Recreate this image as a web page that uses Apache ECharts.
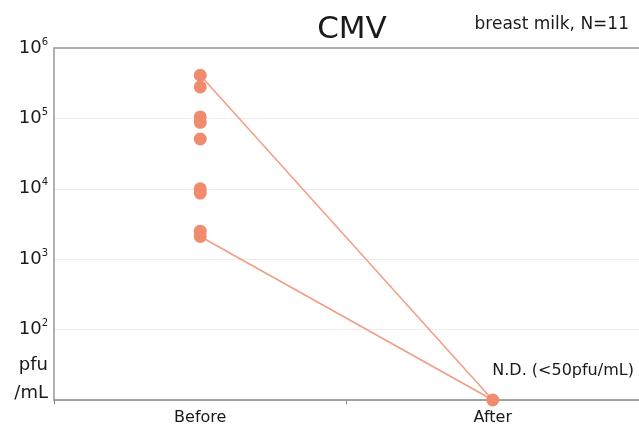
<!DOCTYPE html>
<html>
<head>
<meta charset="utf-8">
<title>CMV breast milk</title>
<script src="https://cdn.jsdelivr.net/npm/echarts@6/dist/echarts.min.js"></script>
<style>
  html, body { margin: 0; padding: 0; background: #fff; }
  #chart { width: 639px; height: 427px; }
</style>
</head>
<body>
<div id="chart"></div>
<script>
// data
const categories = ['Before', 'After'];
const beforeValues = [4.1e5, 2.8e5, 1.05e5, 8.8e4, 5.1e4, 1.0e4, 8.7e3, 2.5e3, 2.1e3];
const upperLine = [4.1e5, 10];
const lowerLine = [2.1e3, 10];
const ndLabel = 'N.D. (<50pfu/mL)';
const yTicks = [10, 100, 1000, 10000, 100000, 1000000];

const FONT = 'DejaVu Sans';
const DOT = '#f08b6d';
const LINE = '#f29c82';
const INK = '#1a1a1a';

const chart = echarts.init(document.getElementById('chart'));

const option = {
  backgroundColor: '#fff',
  textStyle: { fontFamily: FONT },
  title: [{
    text: 'CMV',
    left: 347,
    top: 9,
    textAlign: 'center',
    textStyle: { fontFamily: FONT, fontSize: 31, fontWeight: 'normal', color: INK }
  }, {
    text: 'breast milk, N=11',
    right: 5,
    top: 11,
    textStyle: { fontFamily: FONT, fontSize: 17, fontWeight: 'normal', color: INK }
  }],
  grid: { left: 54, top: 48, width: 588, bottom: 27, containLabel: false },
  xAxis: [{
    type: 'category',
    data: categories,
    boundaryGap: true,
    axisLine: { lineStyle: { color: '#888', width: 1.5 } },
    axisTick: { show: true, length: 4, lineStyle: { color: '#888' } },
    axisLabel: { color: INK, fontSize: 16, margin: 10, fontFamily: FONT }
  }, {
    type: 'category',
    data: categories,
    position: 'top',
    axisLine: { lineStyle: { color: '#999', width: 1.5 } },
    axisTick: { show: false },
    axisLabel: { show: false }
  }],
  yAxis: {
    type: 'log',
    logBase: 10,
    min: yTicks[0],
    max: yTicks[yTicks.length - 1],
    axisLine: { show: true, lineStyle: { color: '#999', width: 1.5 } },
    axisTick: { show: false },
    splitLine: { lineStyle: { color: '#ececec' } },
    axisLabel: {
      margin: 6,
      color: INK,
      formatter: function (v) {
        if (v <= yTicks[0]) return '';
        const e = Math.round(Math.log10(v));
        return '{b|10}{s|' + e + '}';
      },
      rich: {
        b: { fontSize: 18, fontFamily: FONT, color: INK, lineHeight: 22 },
        s: { fontSize: 10, fontFamily: FONT, color: INK, verticalAlign: 'top', lineHeight: 22, padding: [0, 0, 8, 0] }
      }
    }
  },
  graphic: [{
    type: 'text',
    right: 639 - 48,
    top: 356,
    style: { text: 'pfu', fontSize: 18, fontFamily: FONT, fill: INK, textAlign: 'right' }
  }, {
    type: 'text',
    right: 639 - 48,
    top: 384,
    style: { text: '/mL', fontSize: 18, fontFamily: FONT, fill: INK, textAlign: 'right' }
  }],
  series: [{
    type: 'line',
    data: upperLine,
    symbol: 'none',
    lineStyle: { color: LINE, width: 1.5 },
    z: 2
  }, {
    type: 'line',
    data: lowerLine,
    symbol: 'none',
    lineStyle: { color: LINE, width: 1.5 },
    z: 2
  }, {
    type: 'scatter',
    data: beforeValues.map(v => [categories[0], v]),
    symbolSize: 13,
    itemStyle: { color: DOT, opacity: 1 },
    z: 3
  }, {
    type: 'scatter',
    data: [[categories[1], upperLine[1]]],
    symbolSize: 13,
    itemStyle: { color: DOT, opacity: 1 },
    label: {
      show: true,
      position: [6, -31],
      formatter: ndLabel,
      fontSize: 16,
      fontFamily: FONT,
      color: INK
    },
    z: 3
  }]
};

chart.setOption(option);
</script>
</body>
</html>
